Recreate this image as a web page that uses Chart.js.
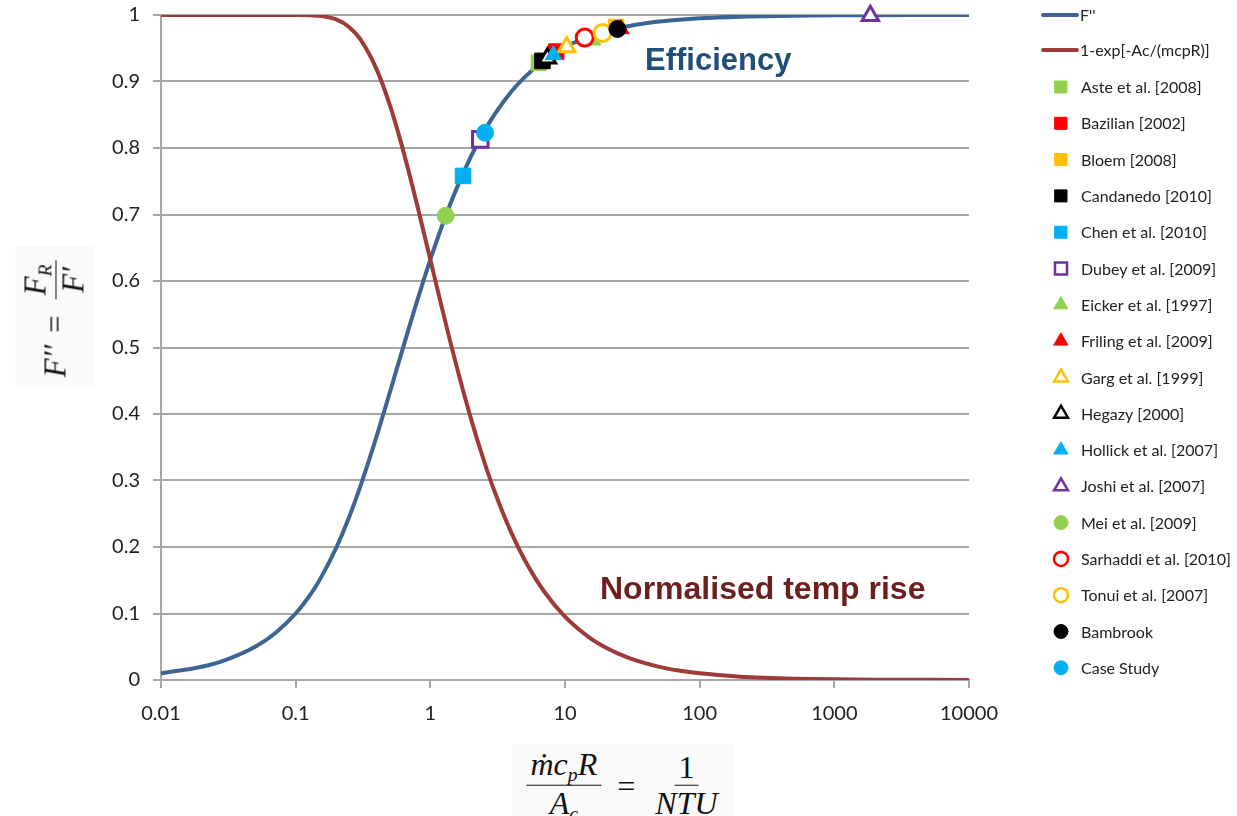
<!DOCTYPE html>
<html>
<head>
<meta charset="utf-8">
<script src="https://cdn.jsdelivr.net/npm/chart.js@4.4.1/dist/chart.umd.min.js"></script>
<style>
  body { margin: 0; background: #fff; }
  #wrap { position: relative; width: 1237px; height: 816px; overflow: hidden; }
  .math { position: absolute; font-family: "Liberation Serif", "DejaVu Serif", serif; font-style: italic; color: #111;
          display: flex; align-items: center; white-space: nowrap; background: #fafafa; padding: 4px 10px; }
  .frac { display: inline-flex; flex-direction: column; align-items: center; margin: 0 4px; }
  .frac .num { padding: 0 4px; border-bottom: 1.5px solid #111; line-height: 1.05; }
  .frac .den { padding: 0 4px; line-height: 1.1; }
  .rm { font-style: normal; margin: 0 12px; }
  sub { font-size: 0.62em; vertical-align: -0.3em; }
</style>
</head>
<body>
<div id="wrap">
  <canvas id="chart" width="1237" height="816"></canvas>
  <div class="math" id="ytitle" style="font-size:31px; left:55px; top:317px; transform: translate(-50%,-50%) rotate(-90deg);">
    <span>F′′</span><span class="rm">=</span>
    <span class="frac"><span class="num">F<sub>R</sub></span><span class="den">F′</span></span>
  </div>
  <div class="math" id="xtitle" style="font-size:32px; left:624px; top:786px; transform: translate(-50%,-50%);">
    <span class="frac"><span class="num">ṁc<sub>p</sub>R</span><span class="den">A<sub>c</sub></span></span>
    <span class="rm">=</span>
    <span class="frac"><span class="num"><span style="font-style:normal">1</span></span><span class="den">NTU</span></span>
  </div>
</div>
<script>
// ---------- Data ----------
const xTickValues = [0.01, 0.1, 1, 10, 100, 1000, 10000];
const xTickLabels = ['0.01', '0.1', '1', '10', '100', '1000', '10000'];
const yTickLabels = ['0', '0.1', '0.2', '0.3', '0.4', '0.5', '0.6', '0.7', '0.8', '0.9', '1'];

// curve sample points (1/NTU)
const curveX = [0.01, 0.02, 0.03, 0.05, 0.07, 0.1, 0.13, 0.15, 0.2, 0.25, 0.3, 0.4, 0.5, 0.6, 0.7, 0.8, 1, 1.2, 1.5, 2,
  2.5, 3, 4, 5, 7, 10, 15, 20, 30, 50, 70, 100, 200, 300, 500, 1000, 2000, 5000, 10000];
const effValues = [0.01, 0.02, 0.03, 0.05, 0.07, 0.1, 0.1299, 0.1498, 0.1987, 0.2454, 0.2893, 0.3672, 0.4323, 0.4867, 0.5322, 0.5708, 0.6321, 0.6785, 0.7299, 0.7869,
  0.8242, 0.8504, 0.8848, 0.9063, 0.9318, 0.9516, 0.9674, 0.9754, 0.9835, 0.9901, 0.9929, 0.995, 0.9975, 0.9983, 0.999, 0.9995, 0.9998, 0.9999, 1];
const riseValues = [1, 1, 1, 1, 1, 1, 0.9995, 0.9987, 0.9933, 0.9817, 0.9643, 0.9179, 0.8647, 0.8111, 0.7603, 0.7135, 0.6321, 0.5654, 0.4866, 0.3935,
  0.3297, 0.2835, 0.2212, 0.1813, 0.1331, 0.0952, 0.0645, 0.0488, 0.0328, 0.0198, 0.0142, 0.01, 0.005, 0.0033, 0.002, 0.001, 0.0005, 0.0002, 0.0001];

// published studies
const studyNames = ['Aste et al. [2008]', 'Bazilian [2002]', 'Bloem [2008]', 'Candanedo [2010]', 'Chen et al. [2010]',
  'Dubey et al. [2009]', 'Eicker et al. [1997]', 'Friling et al. [2009]', 'Garg et al. [1999]', 'Hegazy [2000]',
  'Hollick et al. [2007]', 'Joshi et al. [2007]', 'Mei et al. [2009]', 'Sarhaddi et al. [2010]', 'Tonui et al. [2007]',
  'Bambrook', 'Case Study'];
const studyX = [6.4, 8.6, 24, 6.8, 1.75, 2.35, 16, 26, 10.3, 7.4, 8.2, 1850, 1.3, 14, 19, 24.5, 2.55];
const studyY = [0.928, 0.945, 0.982, 0.931, 0.758, 0.813, 0.962, 0.979, 0.952, 0.935, 0.94, 0.999, 0.698, 0.966, 0.973, 0.979, 0.823];

// ---------- Styles ----------
const GREEN = '#92d050', RED = '#ff0000', ORANGE = '#ffc000', BLACK = '#000000', CYAN = '#00b0f0', PURPLE = '#7030a0';
const studyStyle = [
  ['rect', GREEN, true], ['rect', RED, true], ['rect', ORANGE, true], ['rect', BLACK, true], ['rect', CYAN, true],
  ['rect', PURPLE, false], ['triangle', GREEN, true], ['triangle', RED, true], ['triangle', ORANGE, false], ['triangle', BLACK, false],
  ['triangle', CYAN, true], ['triangle', PURPLE, false], ['circle', GREEN, true], ['circle', RED, false], ['circle', ORANGE, false],
  ['circle', BLACK, true], ['circle', CYAN, true]
];
const plotRadius = { rect: 11, triangle: 9.5, circle: 8.5 };
const legendRadius = { rect: 8.5, triangle: 8, circle: 7 };

const datasets = [
  { label: "F''", data: curveX.map((x, i) => ({ x, y: effValues[i] })), showLine: true, borderColor: '#3c6494',
    borderWidth: 4, pointRadius: 0, cubicInterpolationMode: 'monotone', order: 101, isCurve: true },
  { label: '1-exp[-Ac/(mcpR)]', data: curveX.map((x, i) => ({ x, y: riseValues[i] })), showLine: true, borderColor: '#9e3b39',
    borderWidth: 4, pointRadius: 0, cubicInterpolationMode: 'monotone', order: 100, isCurve: true }
];
studyNames.forEach((name, i) => {
  const [shape, col, filled] = studyStyle[i];
  datasets.push({
    label: name,
    data: [{ x: studyX[i], y: studyY[i] }],
    pointStyle: shape,
    pointRadius: plotRadius[shape],
    pointHoverRadius: plotRadius[shape],
    backgroundColor: filled ? col : '#ffffff',
    borderColor: col,
    pointBorderWidth: filled ? 1 : 3,
    filled,
    clip: false,
    order: 50 - i
  });
});

// ---------- Plugins ----------
const legendPlugin = {
  id: 'sideLegend',
  afterDraw(chart) {
    const ctx = chart.ctx;
    ctx.save();
    ctx.font = '16px Lato';
    ctx.textBaseline = 'middle';
    ctx.textAlign = 'left';
    chart.data.datasets.forEach((ds, i) => {
      const y = i === 0 ? 15 : i === 1 ? 50 : 87 + (i - 2) * 36.3;
      if (ds.isCurve) {
        ctx.strokeStyle = ds.borderColor;
        ctx.lineWidth = 4;
        ctx.lineCap = 'round';
        ctx.beginPath();
        ctx.moveTo(1043, y);
        ctx.lineTo(1077, y);
        ctx.stroke();
        ctx.fillStyle = '#222';
        ctx.fillText(ds.label, 1080, y + 1);
      } else {
        ctx.fillStyle = ds.backgroundColor;
        ctx.strokeStyle = ds.borderColor;
        ctx.lineWidth = ds.filled ? 1 : 2.5;
        Chart.helpers.drawPoint(ctx, { pointStyle: ds.pointStyle, radius: legendRadius[ds.pointStyle], rotation: 0, borderWidth: ctx.lineWidth }, 1061, y);
        ctx.fillStyle = '#222';
        ctx.fillText(ds.label, 1081, y + 1);
      }
    });
    ctx.restore();
  }
};

const labelPlugin = {
  id: 'curveLabels',
  afterDraw(chart) {
    const ctx = chart.ctx;
    ctx.save();
    ctx.textBaseline = 'middle';
    ctx.textAlign = 'left';
    ctx.font = 'bold 31px "Liberation Sans", Arial';
    ctx.fillStyle = '#1f4e79';
    ctx.fillText('Efficiency', 645, 61);
    ctx.font = 'bold 32px "Liberation Sans", Arial';
    ctx.fillStyle = '#6b1f1f';
    ctx.fillText('Normalised temp rise', 600, 590);
    ctx.restore();
  }
};

// ---------- Chart ----------
new Chart(document.getElementById('chart'), {
  type: 'scatter',
  data: { datasets },
  options: {
    responsive: false,
    animation: false,
    layout: { padding: { left: 0, right: 268, top: 15, bottom: 80 } },
    plugins: { legend: { display: false }, tooltip: { enabled: false } },
    scales: {
      x: {
        type: 'logarithmic',
        min: 0.01,
        max: 10000,
        afterBuildTicks: s => { s.ticks = xTickValues.map(v => ({ value: v })); },
        afterFit: s => { s.height = 56; s.paddingLeft = 0; s.paddingRight = 0; },
        ticks: {
          autoSkip: false, maxRotation: 0, padding: 14, color: '#222',
          font: { family: 'Lato', size: 20 },
          callback: (v, i) => xTickLabels[i]
        },
        grid: { drawOnChartArea: false, drawTicks: true, tickLength: 8, color: '#a6a6a6', lineWidth: 2 },
        border: { color: '#a6a6a6', width: 2 }
      },
      y: {
        min: 0,
        max: 1,
        afterFit: s => { s.width = 161; s.paddingTop = 0; s.paddingBottom = 0; },
        ticks: {
          stepSize: 0.1, padding: 13, color: '#222',
          font: { family: 'Lato', size: 20 },
          callback: (v, i) => yTickLabels[i]
        },
        grid: { color: '#a6a6a6', lineWidth: 2, tickLength: 8 },
        border: { color: '#a6a6a6', width: 2 }
      }
    }
  },
  plugins: [legendPlugin, labelPlugin]
});
</script>
</body>
</html>
